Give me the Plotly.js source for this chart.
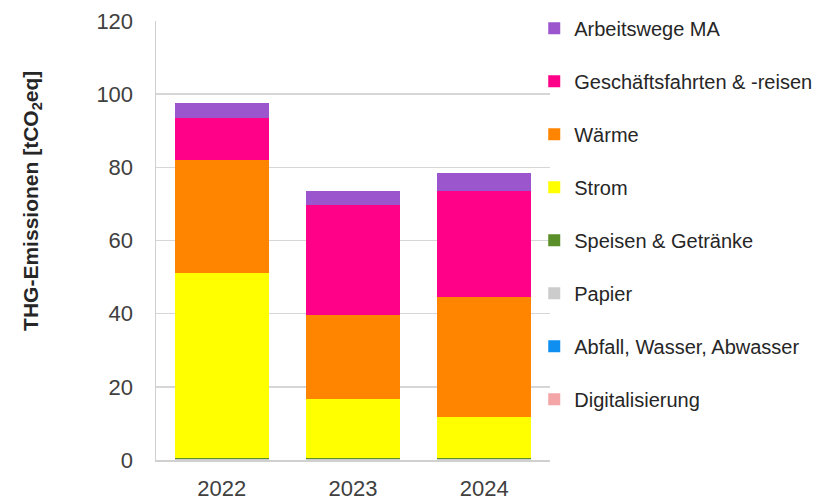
<!DOCTYPE html>
<html>
<head>
<meta charset="utf-8">
<script src="https://cdn.plot.ly/plotly-3.0.1.min.js"></script>
<style>html,body{margin:0;padding:0;background:#fff;}#chart{width:816px;height:501px;}</style>
</head>
<body>
<div id="chart"></div>
<script>
const years = ['2022', '2023', '2024'];
const seriesNames = ['Digitalisierung', 'Abfall, Wasser, Abwasser', 'Papier', 'Speisen & Getränke', 'Strom', 'Wärme', 'Geschäftsfahrten & -reisen', 'Arbeitswege MA'];
const digitalisierung = [0.05, 0.05, 0.05];
const abfall = [0.05, 0.05, 0.05];
const papier = [0.05, 0.05, 0.05];
const speisen = [0.5, 0.5, 0.5];
const strom = [50.6, 15.9, 11.2];
const waerme = [30.7, 23.2, 32.8];
const geschaeft = [11.6, 29.9, 29.0];
const arbeitswege = [4.0, 3.9, 4.8];
const seriesValues = [digitalisierung, abfall, papier, speisen, strom, waerme, geschaeft, arbeitswege];
const colors = ['#f3a5a8', '#0f8ff0', '#cccccc', '#5a8f29', '#ffff00', '#ff8400', '#ff0088', '#9b55cd'];

const traces = seriesNames.map((n, i) => ({
  type: 'bar', name: n, x: years, y: seriesValues[i],
  marker: {color: colors[i], line: {width: 0}},
  legendgroup: 'g' + i,
  legendrank: 100 - i
}));

const font = 'Liberation Sans, Arial, sans-serif';
const layout = {
  width: 816, height: 501,
  margin: {l: 156, r: 266, t: 21, b: 40.5, autoexpand: false},
  barmode: 'stack', bargap: 0.285,
  paper_bgcolor: '#fff', plot_bgcolor: '#fff',
  font: {family: font, color: '#404040'},
  showlegend: true,
  legend: {
    x: 0.96, xanchor: 'left', y: 1.028, yanchor: 'top',
    traceorder: 'grouped', tracegroupgap: 24, maxheight: 500,
    font: {size: 20, color: '#262626', family: font},
    bgcolor: 'rgba(0,0,0,0)', borderwidth: 0
  },
  xaxis: {
    showline: true, linecolor: '#d0d0d0', linewidth: 1.5,
    tickfont: {size: 22, color: '#404040'}, ticks: '', ticklabelstandoff: 8,
    fixedrange: true
  },
  yaxis: {
    range: [0, 120], dtick: 20, showgrid: true, gridcolor: '#d6d6d6', gridwidth: 1.5,
    showline: true, linecolor: '#d0d0d0', linewidth: 1.5, zeroline: false,
    tickfont: {size: 22, color: '#404040'}, ticks: '', ticklabelstandoff: 17,
    fixedrange: true
  },
  annotations: [{
    text: '<b>THG-Emissionen [tCO<sub>2</sub>eq]</b>',
    xref: 'paper', yref: 'paper', x: -0.315, y: 0.59,
    xanchor: 'center', yanchor: 'middle', textangle: -90, showarrow: false,
    font: {size: 21, color: '#262626', family: font}
  }]
};
Plotly.newPlot('chart', traces, layout, {displayModeBar: false, staticPlot: true});
</script>
</body>
</html>
